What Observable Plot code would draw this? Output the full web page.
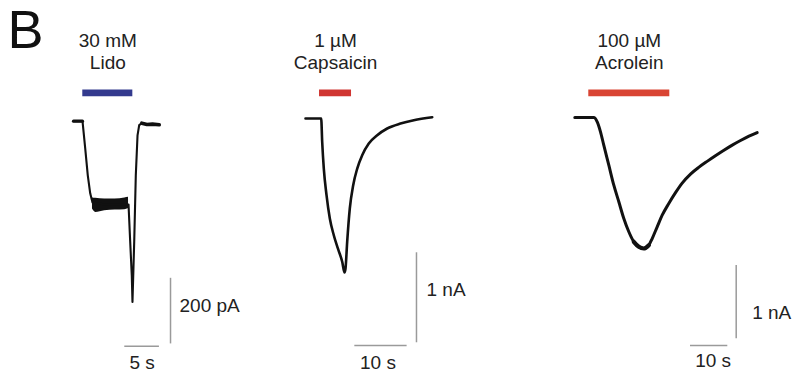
<!DOCTYPE html>
<html><head><meta charset="utf-8">
<script src="https://cdn.jsdelivr.net/npm/d3@7"></script>
<script src="https://cdn.jsdelivr.net/npm/@observablehq/plot@0.6"></script>
<style>
html,body{margin:0;padding:0;background:#fff;}
#fig{position:relative;width:794px;height:376px;overflow:hidden;background:#fff;font-family:"Liberation Sans",Arial,Helvetica,sans-serif;}
#fig svg{position:absolute;left:0;top:0;}
#letter{position:absolute;left:7.5px;top:1.5px;font-size:54px;line-height:54px;color:#111;}
</style></head><body><div id="fig"><div id="letter"></div></div>
<script>
// ---------------- data ----------------
const panelLetter = "B";
const drugConc = ["30 mM", "1 µM", "100 µM"];
const drugName = ["Lido", "Capsaicin", "Acrolein"];
const drugOn  = [1.34, 2.68, 3.75];   // s
const drugOff = [8.56, 8.80, 25.47];  // s
const scaleAmp  = [200, 1, 1];
const ampUnit   = ["pA", "nA", "nA"];
const scaleTime = [5, 10, 10];        // s

// Lidocaine trace (pA vs s)
const lidoT = [0, 1.30, 1.69, 2.06, 2.41, 2.74, 4.5, 6.5, 7.94, 8.18, 8.41, 8.51, 8.76, 8.99, 9.24, 9.48, 9.86, 10.6, 11.4, 12.37];
const lidoI = [0, 0, -83, -165, -220, -248, -254, -254, -254, -367, -470, -551, -368, -165, -43, -12, -6, -10, -9, -11];
// noisy plateau band
const plateauT  = [2.74, 3.2, 4.5, 6.0, 7.4, 7.94];
const plateauHi = [-234, -235, -237, -237, -234, -232];
const plateauLo = [-268, -278, -273, -271, -270, -266];

// Capsaicin trace (nA vs s)
const capT = [0, 3.00, 3.19, 3.50, 4.02, 4.65, 5.41, 6.19, 7.02, 7.46, 7.65, 7.97, 8.47, 9.12, 9.89, 10.84, 12.10, 13.71, 15.62, 18.16, 20.71, 24.23];
const capI = [0, 0, -0.259, -0.556, -0.852, -1.111, -1.297, -1.444, -1.592, -1.711, -1.667, -1.370, -1.000, -0.741, -0.556, -0.408, -0.278, -0.186, -0.111, -0.056, -0.019, 0.014];

// Acrolein trace (nA vs s)
const acrT = [0, 5.09, 6.01, 6.89, 7.77, 9.12, 10.46, 11.80, 13.14, 14.48, 15.82, 17.16, 18.50, 19.84, 20.75, 22.09, 23.43, 25.20, 27.00, 28.79, 31.02, 33.30, 35.58, 37.70, 39.87, 42.10, 44.43, 46.70, 48.90];
const acrI = [0, 0, -0.059, -0.195, -0.378, -0.651, -0.924, -1.150, -1.378, -1.559, -1.696, -1.764, -1.787, -1.742, -1.651, -1.491, -1.333, -1.173, -1.025, -0.895, -0.772, -0.677, -0.595, -0.522, -0.450, -0.380, -0.314, -0.255, -0.205];

// ---------------- layout ----------------
const W = 794, H = 376;
const font = '"Liberation Sans", Arial, Helvetica, sans-serif';
const ink = "#222";
const barColor = ["#333a8e", "#d03632", "#d94433"];
const panels = [
  {T: lidoT, I: lidoI, x0: 73,    y0: 120.7, pps: 6.93, ppu: 0.328, lw: 2.1,
   vbarT: 14.0,  vbarTop: -479,  hbarT: 7.40,  hbarY: -686,
   ampDx: 9,  ampDy: 1.2,  timeDx: 0,  timeDy: 22.6},
  {T: capT,  I: capI,  x0: 305,   y0: 118,   pps: 5.23, ppu: 90,    lw: 2.6,
   vbarT: 21.22, vbarTop: -1.492, hbarT: 9.43,  hbarY: -2.522,
   ampDx: 10, ampDy: -1.6, timeDx: -3, timeDy: 24},
  {T: acrT,  I: acrI,  x0: 574.3, y0: 117,   pps: 3.73, ppu: 73.3,  lw: 3.0,
   vbarT: 43.27, vbarTop: -2.019, hbarT: 31.02, hbarY: -3.11,
   ampDx: 16, ampDy: 16.6, timeDx: 4, timeDy: 21.7}
];
const barPx = 92.3, barW = 6.7, labelBasePx = 68.3;

const fig = document.getElementById("fig");
document.getElementById("letter").textContent = panelLetter;

panels.forEach((P, i) => {
  const toVal = px => (P.y0 - px) / P.ppu;
  const trace = P.T.map((t, k) => ({t, v: P.I[k]}));
  const bar = [{t1: drugOn[i], t2: drugOff[i], v: toVal(barPx)}];
  const label = [{t: (drugOn[i] + drugOff[i]) / 2, v: toVal(labelBasePx), s: drugConc[i] + "\n" + drugName[i]}];
  const vbar = [{t: P.vbarT, v1: P.vbarTop, v2: P.vbarTop - scaleAmp[i]}];
  const hbar = [{t1: P.hbarT, t2: P.hbarT + scaleTime[i], v: P.hbarY}];
  const ampLabel = [{t: P.vbarT, v: P.vbarTop - scaleAmp[i] / 2, s: scaleAmp[i] + " " + ampUnit[i]}];
  const timeLabel = [{t: P.hbarT + scaleTime[i] / 2, v: P.hbarY, s: scaleTime[i] + " s"}];

  const marks = [];
  if (i === 0) {
    const band = plateauT.map((t, k) => ({t, hi: plateauHi[k], lo: plateauLo[k]}));
    marks.push(Plot.areaY(band, {x: "t", y1: "lo", y2: "hi", fill: "#111", curve: "monotone-x"}));
    marks.push(Plot.line(trace.filter(d => d.t <= 1.3), {x: "t", y: "v", stroke: "#111", strokeWidth: 3.2}));
    marks.push(Plot.line(trace.filter(d => d.t >= 9.8), {x: "t", y: "v", stroke: "#111", strokeWidth: 3.6}));
  }
  if (i === 2) {
    marks.push(Plot.line(trace.filter(d => d.t >= 15.5 && d.t <= 20.5), {x: "t", y: "v", stroke: "#111", strokeWidth: 4.2, curve: "monotone-x"}));
  }
  marks.push(
    Plot.line(trace, {x: "t", y: "v", stroke: "#111", strokeWidth: P.lw, curve: i === 0 ? "linear" : "monotone-x", strokeLinejoin: "round"}),
    Plot.ruleY(bar, {x1: "t1", x2: "t2", y: "v", stroke: barColor[i], strokeWidth: barW}),
    Plot.text(label, {x: "t", y: "v", text: "s", lineAnchor: "bottom", lineHeight: 1.137, fontSize: 19, fill: ink, fontFamily: font}),
    Plot.ruleX(vbar, {x: "t", y1: "v1", y2: "v2", stroke: "#9a9a9a", strokeWidth: 1.5}),
    Plot.ruleY(hbar, {x1: "t1", x2: "t2", y: "v", stroke: "#9a9a9a", strokeWidth: 1.5}),
    Plot.text(ampLabel, {x: "t", y: "v", text: "s", textAnchor: "start", lineAnchor: "bottom", dx: P.ampDx, dy: P.ampDy, fontSize: 19, fill: ink, fontFamily: font}),
    Plot.text(timeLabel, {x: "t", y: "v", text: "s", lineAnchor: "bottom", dx: P.timeDx, dy: P.timeDy, fontSize: 19, fill: ink, fontFamily: font})
  );

  const svg = Plot.plot({
    width: W, height: H, margin: 0,
    x: {domain: [-P.x0 / P.pps, (W - P.x0) / P.pps], range: [0, W], axis: null},
    y: {domain: [(P.y0 - H) / P.ppu, P.y0 / P.ppu], range: [H, 0], axis: null},
    style: {background: "transparent", overflow: "visible"},
    marks
  });
  fig.appendChild(svg);
});
</script>
</body></html>
